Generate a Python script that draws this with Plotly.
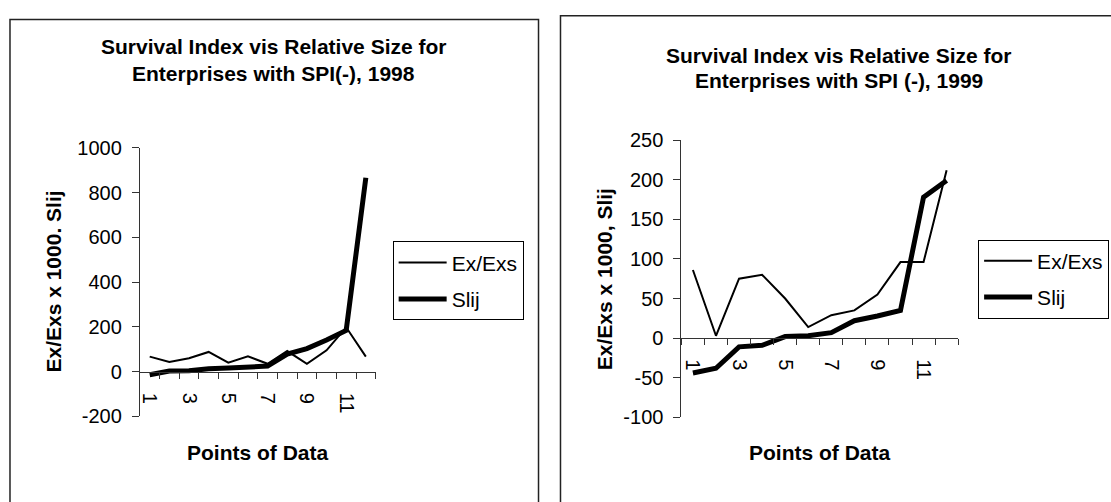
import plotly.graph_objects as go

W, H = 1111, 502

categories = list(range(1, 13))
x_tick_values = [1, 3, 5, 7, 9, 11]
x_tick_labels = ["1", "3", "5", "7", "9", "11"]

y_tick_values_1998 = [-200, 0, 200, 400, 600, 800, 1000]
y_tick_labels_1998 = ["-200", "0", "200", "400", "600", "800", "1000"]
y_tick_values_1999 = [-100, -50, 0, 50, 100, 150, 200, 250]
y_tick_labels_1999 = ["-100", "-50", "0", "50", "100", "150", "200", "250"]

ex_1998 = [67, 43, 60, 88, 40, 68, 35, 92, 35, 95, 198, 67]
slij_1998 = [-14, 3, 4, 13, 16, 18, 25, 78, 103, 141, 184, 866]

ex_1999 = [86, 3, 75, 80, 50, 14, 29, 35, 55, 96, 96, 212]
slij_1999 = [-44, -38, -11, -9, 2, 3, 7, 22, 28, 35, 178, 199]

titles = [
    ["Survival Index vis Relative Size for", "Enterprises with SPI(-), 1998"],
    ["Survival Index vis Relative Size for", "Enterprises with SPI (-), 1999"],
]
y_titles = ["Ex/Exs x 1000. Slij", "Ex/Exs x 1000, Slij"]
x_title = "Points of Data"
series_names = ["Ex/Exs", "Slij"]

FONT = "Arial, Liberation Sans, sans-serif"
AX = "#333333"


def px(x):
    return x / W


def py(y):
    return 1 - y / H


fig = go.Figure()

fig.add_trace(go.Scatter(x=categories, y=ex_1998, mode="lines", name=series_names[0],
                         line=dict(color="black", width=2), xaxis="x", yaxis="y",
                         legend="legend", legendgroup="a"))
fig.add_trace(go.Scatter(x=categories, y=slij_1998, mode="lines", name=series_names[1],
                         line=dict(color="black", width=5), xaxis="x", yaxis="y",
                         legend="legend", legendgroup="b"))
fig.add_trace(go.Scatter(x=categories, y=ex_1999, mode="lines", name=series_names[0],
                         line=dict(color="black", width=2), xaxis="x2", yaxis="y2",
                         legend="legend2", legendgroup="c"))
fig.add_trace(go.Scatter(x=categories, y=slij_1999, mode="lines", name=series_names[1],
                         line=dict(color="black", width=5), xaxis="x2", yaxis="y2",
                         legend="legend2", legendgroup="d"))

panels = [
    dict(xd=(139, 375), yd=(424, 143), yr=(-200, 1000),
         tv=y_tick_values_1998, tt=y_tick_labels_1998),
    dict(xd=(681, 958), yd=(425, 135), yr=(-100, 250),
         tv=y_tick_values_1999, tt=y_tick_labels_1999),
]

boundaries = [0.5 + i for i in range(13)]

for i, p in enumerate(panels):
    sfx = "" if i == 0 else "2"
    ydom = [py(p["yd"][0]), py(p["yd"][1])]
    ymin, ymax = p["yr"]
    zero_pos = ydom[0] + (0 - ymin) / (ymax - ymin) * (ydom[1] - ydom[0])
    fig.update_layout(**{
        "xaxis" + sfx: dict(
            domain=[px(p["xd"][0]), px(p["xd"][1])],
            range=[0.5, 12.5], anchor="free", position=zero_pos,
            showline=True, linecolor=AX, linewidth=1,
            tickmode="array", tickvals=x_tick_values, ticktext=x_tick_labels,
            tickangle=90, ticks="", ticklabelstandoff=16,
            minor=dict(tickmode="array", tickvals=boundaries, ticks="outside",
                       ticklen=6, tickcolor=AX, tickwidth=1),
            showgrid=False, zeroline=False,
            tickfont=dict(family=FONT, size=20, color="black"),
        ),
        "yaxis" + sfx: dict(
            domain=ydom, range=[ymin, ymax], anchor="x" + sfx,
            tickmode="array", tickvals=p["tv"], ticktext=p["tt"],
            ticks="outside", ticklen=7, tickcolor=AX,
            showline=True, linecolor=AX, linewidth=1, ticklabelstandoff=6,
            showgrid=False, zeroline=False,
            tickfont=dict(family=FONT, size=20, color="black"),
        ),
    })

ann = []
title_pos = [(273, 37, 65), (839, 47, 73)]
for i, (cx, y1, y2) in enumerate(title_pos):
    for txt, yy in zip(titles[i], (y1, y2)):
        ann.append(dict(text="<b>" + txt + "</b>", x=px(cx), y=py(yy), xref="paper", yref="paper",
                        xanchor="center", yanchor="middle", showarrow=False,
                        font=dict(family=FONT, size=21, color="black")))
for i, (cx, cy) in enumerate([(53, 283), (604, 280)]):
    ann.append(dict(text="<b>" + y_titles[i] + "</b>", x=px(cx), y=py(cy), xref="paper", yref="paper",
                    xanchor="center", yanchor="middle", showarrow=False, textangle=-90,
                    font=dict(family=FONT, size=21, color="black")))
for cx in (257, 819):
    ann.append(dict(text="<b>" + x_title + "</b>", x=px(cx), y=py(462), xref="paper", yref="paper",
                    xanchor="center", yanchor="middle", showarrow=False,
                    font=dict(family=FONT, size=21, color="black")))

shapes = [
    dict(type="rect", xref="paper", yref="paper", x0=px(9), x1=px(538), y0=py(515), y1=py(9),
         line=dict(color="#222222", width=1.5)),
    dict(type="rect", xref="paper", yref="paper", x0=px(560), x1=px(1120), y0=py(515), y1=py(5),
         line=dict(color="#222222", width=1.5)),
]

legend_common = dict(xanchor="left", yanchor="top", bordercolor="black", borderwidth=1,
                     bgcolor="white", font=dict(family=FONT, size=21, color="black"),
                     itemwidth=48, tracegroupgap=6, traceorder="grouped")

fig.update_layout(
    width=W, height=H, margin=dict(l=0, r=0, t=0, b=0),
    paper_bgcolor="white", plot_bgcolor="white",
    annotations=ann, shapes=shapes,
    legend=dict(x=px(392), y=py(241), **legend_common),
    legend2=dict(x=px(978), y=py(239), **legend_common),
    showlegend=True,
)

fig.write_html(
    "out.html",
    config={"displayModeBar": False, "staticPlot": True},
    post_script="document.documentElement.style.margin='0px';"
                "document.body.style.margin='0px';"
                "document.body.style.overflow='hidden';",
)
